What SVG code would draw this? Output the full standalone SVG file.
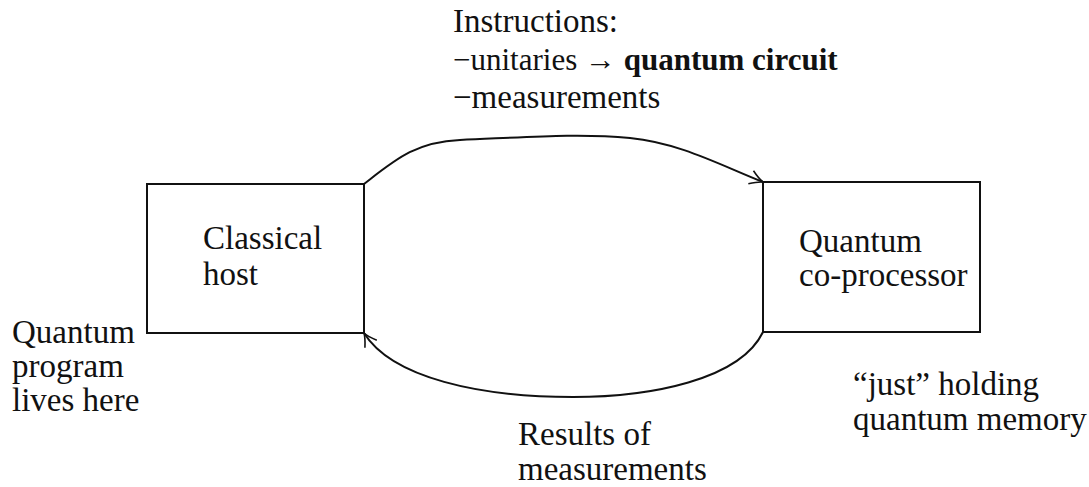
<svg xmlns="http://www.w3.org/2000/svg" width="1089" height="487" viewBox="0 0 1089 487">
<defs>
<style>
text{font-family:"Liberation Serif","DejaVu Serif",serif;font-size:33px;fill:#111}
.b{font-weight:bold}
.s{font-size:31px}
.box{fill:none;stroke:#111;stroke-width:2}
.edge{fill:none;stroke:#111;stroke-width:2}
</style>
<marker id="arr" viewBox="-14 -8 16 16" markerWidth="16" markerHeight="16" refX="0" refY="0" orient="auto" markerUnits="userSpaceOnUse">
<path d="M-13,-7 Q-5,-1.5 0,0 Q-5,1.5 -13,7" fill="none" stroke="#111" stroke-width="1.6"/>
</marker>
</defs>
<rect width="1089" height="487" fill="#fff"/>
<g id="classical">
<rect class="box" x="147" y="184" width="217" height="149"/>
<text x="203" y="249">Classical</text>
<text x="203" y="285">host</text>
</g>
<g id="quantum">
<rect class="box" x="763" y="182" width="217" height="150"/>
<text x="799" y="252">Quantum</text>
<text x="799" y="286">co-processor</text>
</g>
<g id="connectors">
<path class="edge" d="M364,184 C395,160 415,142 460,140 C530,137 580,133 630,138 C680,143 720,165 763,182" marker-end="url(#arr)"/>
<path class="edge" d="M763,332 C740,380 650,397 573,397 C480,397 392,378 364,333" marker-end="url(#arr)"/>
</g>
<g id="labels">
<text x="453" y="32">Instructions:</text>
<text class="s" x="453" y="70">−unitaries → <tspan class="b">quantum circuit</tspan></text>
<text x="453" y="108">−measurements</text>
<text x="12" y="343">Quantum</text>
<text x="12" y="377">program</text>
<text x="12" y="411">lives here</text>
<text x="853" y="395">“just” holding</text>
<text x="853" y="430">quantum memory</text>
<text x="518" y="445">Results of</text>
<text x="518" y="480">measurements</text>
</g>
</svg>
